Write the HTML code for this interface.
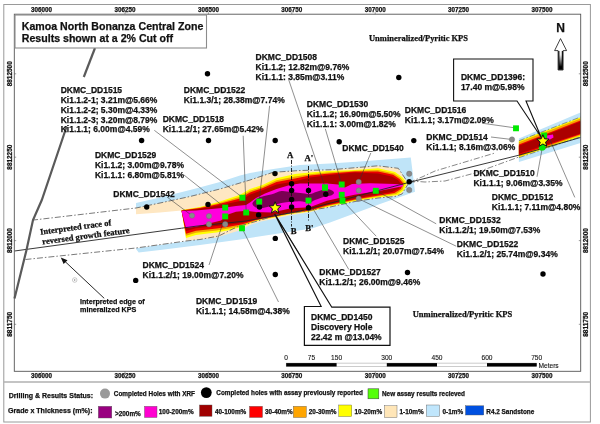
<!DOCTYPE html>
<html><head><meta charset="utf-8"><style>html,body{margin:0;padding:0;background:#fff;}svg{display:block;will-change:transform;}</style></head>
<body>
<svg width="600" height="424" viewBox="0 0 600 424">
<rect width="600" height="424" fill="#fff"/>
<polygon points="136.0,203.0 160.0,197.5 190.0,190.0 220.0,182.0 240.0,175.5 250.0,173.0 270.0,169.5 300.0,165.0 330.0,163.5 360.0,161.5 410.8,157.5 415.0,191.7 380.0,204.0 330.0,222.5 312.0,228.6 272.0,234.5 240.0,239.5 200.0,245.0 160.0,250.0 138.7,252.5 136.0,249.0" fill="#bfe4f8"/>
<polygon points="136.0,208.0 160.0,203.0 190.0,196.5 220.0,189.0 250.0,180.0 273.0,172.3 300.0,170.5 330.0,169.8 378.0,165.8 398.3,168.3 406.7,180.8 409.0,182.5 402.0,194.0 395.0,196.5 378.0,198.0 355.0,201.5 327.0,207.7 310.0,212.3 291.0,215.3 272.0,219.3 261.0,221.5 250.0,225.0 241.6,229.8 216.7,237.5 200.0,239.5 186.0,241.0 136.0,248.0" fill="#fee7c2"/>
<polygon points="130.0,214.5 136.0,214.2 160.0,212.5 181.5,210.5 186.0,239.0 186.0,241.2 160.0,244.8 136.0,248.3 130.0,248.6" fill="#fff"/>
<polygon points="181.5,210.0 200.0,207.0 220.0,201.5 240.0,194.7 250.0,189.0 263.0,184.7 276.5,178.2 295.0,174.0 310.0,172.5 327.0,171.0 355.0,170.0 378.0,168.3 395.0,172.0 402.0,177.0 407.0,183.0 404.0,190.0 398.0,195.0 380.0,197.3 355.0,201.0 327.0,207.0 310.0,211.6 291.0,214.0 272.0,218.0 263.0,219.5 256.0,221.0 241.6,227.0 230.0,230.0 216.7,232.5 210.0,233.3 196.0,235.0 186.0,238.0" fill="#ffff00"/>
<polygon points="181.5,210.3 200.0,207.6 220.0,202.7 240.0,196.8 250.0,190.8 263.0,186.4 276.5,180.3 295.0,176.4 310.0,174.2 327.0,172.4 355.0,170.8 378.0,170.0 394.0,173.5 400.7,178.0 405.0,183.3 402.4,189.5 396.0,194.0 379.3,196.3 355.0,200.3 327.0,206.2 310.0,211.1 291.0,213.4 272.0,217.4 263.0,218.9 256.0,220.4 241.6,225.7 230.0,228.2 216.7,230.4 210.0,231.2 196.0,232.8 186.0,235.7" fill="#f5a200"/>
<polygon points="181.5,210.5 200.0,208.1 220.0,203.8 240.0,198.6 250.0,192.4 263.0,188.0 276.5,182.1 295.0,178.5 310.0,175.6 327.0,173.7 355.0,171.6 378.0,171.5 393.1,174.8 399.5,178.9 403.3,183.6 400.9,189.1 394.3,193.1 378.8,195.4 355.0,199.6 327.0,205.4 310.0,210.6 291.0,212.9 272.0,216.9 263.0,218.4 256.0,219.9 241.6,224.5 230.0,226.6 216.7,228.5 210.0,229.3 196.0,230.8 186.0,233.7" fill="#ea0000"/>
<polygon points="181.5,210.8 200.0,208.8 220.0,205.2 240.0,201.0 250.0,194.5 263.0,190.0 276.5,184.5 295.0,181.3 310.0,177.5 327.0,175.3 355.0,172.5 378.0,173.5 392.0,176.5 398.0,180.0 401.0,184.0 399.0,188.5 392.0,192.0 378.0,194.3 355.0,198.8 327.0,204.5 310.0,210.0 291.0,212.3 272.0,216.3 263.0,217.8 256.0,219.3 241.6,223.0 230.0,224.5 216.7,226.0 210.0,226.8 196.0,228.2 186.0,231.0" fill="#ab0000"/>
<polygon points="181.5,211.0 196.0,210.5 222.0,208.0 236.0,206.0 246.0,205.0 250.0,202.5 256.0,198.0 265.0,193.5 276.5,189.0 290.0,185.0 300.0,183.5 327.0,183.6 338.0,184.5 345.0,187.5 352.0,184.0 370.0,183.3 395.0,184.0 403.0,184.8 403.0,186.2 380.0,190.8 354.5,194.8 345.0,196.8 327.0,200.8 309.7,207.2 291.0,208.3 272.0,212.5 256.0,212.0 246.0,210.8 236.0,211.8 228.0,214.5 221.0,220.5 196.0,226.8 186.0,228.0" fill="#ff00dc"/>
<path d="M252.5,204.0 C252.2,202.9 253.1,202.0 254.0,201.0 C254.9,200.0 256.4,198.8 258.0,198.0 C259.6,197.2 261.0,196.9 263.3,196.3 C265.6,195.7 269.0,195.2 272.0,194.3 C275.0,193.4 278.2,191.4 281.4,191.0 C284.6,190.6 287.9,191.7 291.0,192.0 C294.1,192.3 297.2,192.7 300.3,193.0 C303.4,193.3 307.1,194.2 309.7,194.0 C312.3,193.8 313.9,192.7 316.0,192.0 C318.1,191.3 320.2,190.5 322.0,190.0 C323.8,189.5 325.3,188.9 327.0,189.0 C328.7,189.1 330.8,189.8 332.0,190.5 C333.2,191.2 334.2,192.2 334.0,193.0 C333.8,193.8 332.5,194.9 331.0,195.5 C329.5,196.1 327.7,195.8 325.0,196.5 C322.3,197.2 317.6,199.0 315.0,200.0 C312.4,201.0 312.1,202.4 309.7,202.6 C307.2,202.8 303.4,201.3 300.3,201.2 C297.2,201.0 294.0,201.4 290.9,201.7 C287.8,202.0 284.5,202.5 281.4,203.1 C278.2,203.7 275.1,204.7 272.0,205.5 C268.9,206.3 265.7,207.7 263.0,208.0 C260.3,208.3 257.8,208.2 256.0,207.5 C254.2,206.8 252.8,205.1 252.5,204.0Z" fill="#7a0052"/>
<polygon points="518.9,138.5 580.5,112.5 580.5,143.0 518.9,162.0" fill="#bfe4f8"/>
<polygon points="518.9,141.0 580.5,117.2 580.5,136.5 518.9,157.5" fill="#ffff00"/>
<polygon points="518.9,142.2 580.5,118.5 580.5,135.3 518.9,156.5" fill="#f5a200"/>
<polygon points="518.9,144.5 580.5,120.6 580.5,134.3 518.9,155.3" fill="#ea0000"/>
<polygon points="518.9,145.8 580.5,121.6 580.5,133.5 518.9,153.8" fill="#ab0000"/>
<polyline points="518.9,140.8 580.5,117.0" fill="none" stroke="#6a6a6a" stroke-width="0.7" stroke-dasharray="6,2,1.5,2"/>
<polyline points="518.9,157.7 580.5,136.7" fill="none" stroke="#6a6a6a" stroke-width="0.7" stroke-dasharray="6,2,1.5,2"/>
<path d="M547,135.5 L553,134.5 L553.5,137.5 L550,139.5 L547,139 Z" fill="#ff00dc"/>
<polyline points="32.0,220.2 136.0,208.0 160.0,203.0 190.0,196.5 220.0,189.0 250.0,180.0 273.0,172.3 300.0,170.5 330.0,169.8 378.0,165.8 398.3,168.3 406.7,180.8 409.0,182.5" fill="none" stroke="#6a6a6a" stroke-width="0.9" stroke-dasharray="6,2,1.5,2"/>
<polyline points="25.5,259.5 136.0,248.0 186.0,241.0 200.0,239.5 218.7,236.0 237.3,226.7 261.0,220.0 276.5,215.0 295.0,212.5 327.0,207.7 355.0,201.5 378.0,198.0 395.0,196.5 402.0,194.0 409.0,182.5" fill="none" stroke="#6a6a6a" stroke-width="0.9" stroke-dasharray="6,2,1.5,2"/>
<polyline points="409.0,182.5 416.0,179.5 422.0,177.0 435.0,171.0 465.0,162.0 495.0,153.0" fill="none" stroke="#6a6a6a" stroke-width="0.8" stroke-dasharray="6,2,1.5,2"/>
<polyline points="409.0,182.5 418.0,181.5 425.0,182.0 445.0,181.0 475.0,173.0 518.9,157.0" fill="none" stroke="#6a6a6a" stroke-width="0.8" stroke-dasharray="6,2,1.5,2"/>
<polyline points="14.5,251.0 181.6,228.2 196.0,226.2 246.0,221.0 300.0,211.0 350.0,198.0 409.0,182.4 518.9,155.2 580.5,137.5" fill="none" stroke="#222" stroke-width="0.9" />
<polyline points="95.0,48.0 83.8,77.0" fill="none" stroke="#5a5a5a" stroke-width="2.2" />
<polyline points="66.6,126.5 62.1,140.0 41.8,200.0 33.0,220.0 26.5,250.0 14.5,298.5" fill="none" stroke="#5a5a5a" stroke-width="2.2" />
<line x1="154.3" y1="130.3" x2="242.4" y2="197.4" stroke="#333" stroke-width="0.55"/>
<line x1="184.0" y1="175.0" x2="225.0" y2="207.6" stroke="#333" stroke-width="0.55"/>
<line x1="167.0" y1="197.0" x2="192.0" y2="215.6" stroke="#333" stroke-width="0.55"/>
<line x1="243.2" y1="135.8" x2="246.2" y2="212.2" stroke="#333" stroke-width="0.55"/>
<line x1="269.6" y1="105.8" x2="259.2" y2="201.3" stroke="#333" stroke-width="0.55"/>
<line x1="288.5" y1="79.2" x2="325.0" y2="187.0" stroke="#333" stroke-width="0.55"/>
<line x1="325.3" y1="128.8" x2="341.7" y2="184.2" stroke="#333" stroke-width="0.55"/>
<line x1="370.8" y1="153.0" x2="358.7" y2="182.0" stroke="#333" stroke-width="0.55"/>
<line x1="482.0" y1="123.2" x2="516.0" y2="128.0" stroke="#333" stroke-width="0.55"/>
<line x1="491.0" y1="137.0" x2="512.0" y2="139.5" stroke="#333" stroke-width="0.55"/>
<line x1="537.0" y1="176.8" x2="542.3" y2="147.6" stroke="#333" stroke-width="0.55"/>
<line x1="574.8" y1="197.4" x2="550.0" y2="140.0" stroke="#333" stroke-width="0.55"/>
<line x1="436.2" y1="223.8" x2="375.8" y2="190.5" stroke="#333" stroke-width="0.55"/>
<line x1="456.2" y1="246.2" x2="358.7" y2="198.8" stroke="#333" stroke-width="0.55"/>
<line x1="376.2" y1="236.2" x2="342.5" y2="200.5" stroke="#333" stroke-width="0.55"/>
<line x1="348.8" y1="269.5" x2="312.5" y2="207.8" stroke="#333" stroke-width="0.55"/>
<line x1="209.0" y1="265.0" x2="225.2" y2="216.1" stroke="#333" stroke-width="0.55"/>
<line x1="278.5" y1="302.0" x2="242.0" y2="228.0" stroke="#333" stroke-width="0.55"/>
<line x1="291.5" y1="160" x2="291.5" y2="226.5" stroke="#111" stroke-width="0.9" stroke-dasharray="4,1.5,1,1.5"/>
<line x1="308.5" y1="166" x2="308.5" y2="222" stroke="#111" stroke-width="0.9" stroke-dasharray="4,1.5,1,1.5"/>
<path d="M453.6,59 L533,59 L533,101 L526,101 L541,137 L517,101 L453.6,101 Z" fill="#fff" stroke="#111" stroke-width="1.1" stroke-linejoin="miter"/>
<path d="M304.4,306.5 L321.1,306.3 L274.7,214 L331.8,307.2 L390,307.2 L390,345.3 L304.4,345.3 Z" fill="#fff" stroke="#111" stroke-width="1.2"/>
<line x1="276.0" y1="216.0" x2="300.0" y2="255.0" stroke="#111" stroke-width="0.5"/>
<circle cx="192.0" cy="215.6" r="2.7" fill="#8a8a8a" stroke="#6e6e6e" stroke-width="0.4"/>
<circle cx="209.0" cy="216.1" r="2.7" fill="#8a8a8a" stroke="#6e6e6e" stroke-width="0.4"/>
<circle cx="209.0" cy="224.2" r="2.7" fill="#8a8a8a" stroke="#6e6e6e" stroke-width="0.4"/>
<circle cx="225.2" cy="224.2" r="2.7" fill="#8a8a8a" stroke="#6e6e6e" stroke-width="0.4"/>
<circle cx="358.7" cy="182.0" r="2.7" fill="#8a8a8a" stroke="#6e6e6e" stroke-width="0.4"/>
<circle cx="358.7" cy="190.5" r="2.7" fill="#8a8a8a" stroke="#6e6e6e" stroke-width="0.4"/>
<circle cx="358.7" cy="198.8" r="2.7" fill="#8a8a8a" stroke="#6e6e6e" stroke-width="0.4"/>
<circle cx="409.2" cy="173.8" r="2.7" fill="#8a8a8a" stroke="#6e6e6e" stroke-width="0.4"/>
<circle cx="409.2" cy="190.0" r="2.7" fill="#8a8a8a" stroke="#6e6e6e" stroke-width="0.4"/>
<circle cx="512.0" cy="139.5" r="2.7" fill="#8a8a8a" stroke="#6e6e6e" stroke-width="0.4"/>
<circle cx="207.5" cy="73.8" r="2.7" fill="#000"/>
<circle cx="398.8" cy="77.5" r="2.7" fill="#000"/>
<circle cx="413.8" cy="140.6" r="2.7" fill="#000"/>
<circle cx="141.6" cy="140.5" r="2.7" fill="#000"/>
<circle cx="208.5" cy="140.5" r="2.7" fill="#000"/>
<circle cx="275.2" cy="140.5" r="2.7" fill="#000"/>
<circle cx="339.2" cy="141.7" r="2.7" fill="#000"/>
<circle cx="146.7" cy="207.0" r="2.7" fill="#000"/>
<circle cx="208.0" cy="204.4" r="2.7" fill="#000"/>
<circle cx="275.0" cy="173.6" r="2.7" fill="#000"/>
<circle cx="259.5" cy="207.0" r="2.7" fill="#000"/>
<circle cx="258.6" cy="214.9" r="2.7" fill="#000"/>
<circle cx="325.8" cy="194.2" r="2.7" fill="#000"/>
<circle cx="409.2" cy="181.7" r="2.7" fill="#000"/>
<circle cx="291.6" cy="183.8" r="2.7" fill="#000"/>
<circle cx="291.6" cy="190.4" r="2.7" fill="#000"/>
<circle cx="291.6" cy="199.5" r="2.7" fill="#000"/>
<circle cx="291.6" cy="207.0" r="2.7" fill="#000"/>
<circle cx="308.5" cy="190.4" r="2.7" fill="#000"/>
<circle cx="308.5" cy="207.8" r="2.7" fill="#000"/>
<circle cx="275.3" cy="238.4" r="2.7" fill="#000"/>
<circle cx="275.3" cy="274.5" r="2.7" fill="#000"/>
<circle cx="135.7" cy="280.4" r="2.7" fill="#000"/>
<circle cx="407.5" cy="272.5" r="2.7" fill="#000"/>
<circle cx="543.0" cy="274.0" r="2.7" fill="#000"/>
<rect x="222.25" y="204.65" width="5.9" height="5.9" fill="#00ea00"/>
<rect x="222.25" y="213.45" width="5.9" height="5.9" fill="#00ea00"/>
<rect x="239.45" y="194.75" width="5.9" height="5.9" fill="#00ea00"/>
<rect x="243.25" y="209.55" width="5.9" height="5.9" fill="#00ea00"/>
<rect x="256.25" y="198.65" width="5.9" height="5.9" fill="#00ea00"/>
<rect x="239.05" y="225.35" width="5.9" height="5.9" fill="#00ea00"/>
<rect x="305.55" y="197.65" width="5.9" height="5.9" fill="#00ea00"/>
<rect x="322.05" y="184.35" width="5.9" height="5.9" fill="#00ea00"/>
<rect x="322.05" y="184.85" width="5.9" height="5.9" fill="#00ea00"/>
<rect x="338.75" y="181.55" width="5.9" height="5.9" fill="#00ea00"/>
<rect x="338.75" y="191.85" width="5.9" height="5.9" fill="#00ea00"/>
<rect x="339.55" y="197.85" width="5.9" height="5.9" fill="#00ea00"/>
<rect x="372.85" y="187.85" width="5.9" height="5.9" fill="#00ea00"/>
<rect x="513.05" y="125.35" width="5.9" height="5.9" fill="#00ea00"/>
<rect x="541.25" y="132.55" width="5.9" height="5.9" fill="#00ea00"/>
<circle cx="542.2" cy="147.2" r="3.4" fill="#00ea00"/>
<polygon points="275.1,201.7 276.7,205.6 281.0,206.0 277.8,208.8 278.7,212.9 275.1,210.7 271.5,212.9 272.4,208.8 269.2,206.0 273.5,205.6" fill="#ffff00" stroke="#111" stroke-width="1"/>
<polygon points="542.9,134.7 544.6,138.8 549.0,139.1 545.6,142.0 546.7,146.3 542.9,144.0 539.1,146.3 540.2,142.0 536.8,139.1 541.2,138.8" fill="#ffff00" stroke="#111" stroke-width="1"/>
<rect x="3.8" y="4.5" width="586.6" height="417.5" fill="none" stroke="#9a9a9a" stroke-width="1"/>
<line x1="3.8" y1="382" x2="590.4" y2="382" stroke="#b0b0b0" stroke-width="1.6"/>
<rect x="14.3" y="14.2" width="566.4" height="357.1" fill="none" stroke="#555" stroke-width="0.9"/>
<text x="41.50" y="12.00" font-family='"Liberation Sans", sans-serif' font-size="6.4" font-weight="bold" fill="#111" stroke="#111" stroke-width="0.25" textLength="21.00" lengthAdjust="spacingAndGlyphs" text-anchor="middle">306000</text>
<text x="41.50" y="377.80" font-family='"Liberation Sans", sans-serif' font-size="6.4" font-weight="bold" fill="#111" stroke="#111" stroke-width="0.25" textLength="21.00" lengthAdjust="spacingAndGlyphs" text-anchor="middle">306000</text>
<line x1="41.5" y1="12.3" x2="41.5" y2="14.2" stroke="#555" stroke-width="0.6"/>
<line x1="41.5" y1="371.3" x2="41.5" y2="373.3" stroke="#555" stroke-width="0.6"/>
<text x="125.00" y="12.00" font-family='"Liberation Sans", sans-serif' font-size="6.4" font-weight="bold" fill="#111" stroke="#111" stroke-width="0.25" textLength="21.00" lengthAdjust="spacingAndGlyphs" text-anchor="middle">306250</text>
<text x="125.00" y="377.80" font-family='"Liberation Sans", sans-serif' font-size="6.4" font-weight="bold" fill="#111" stroke="#111" stroke-width="0.25" textLength="21.00" lengthAdjust="spacingAndGlyphs" text-anchor="middle">306250</text>
<line x1="125" y1="12.3" x2="125" y2="14.2" stroke="#555" stroke-width="0.6"/>
<line x1="125" y1="371.3" x2="125" y2="373.3" stroke="#555" stroke-width="0.6"/>
<text x="208.40" y="12.00" font-family='"Liberation Sans", sans-serif' font-size="6.4" font-weight="bold" fill="#111" stroke="#111" stroke-width="0.25" textLength="21.00" lengthAdjust="spacingAndGlyphs" text-anchor="middle">306500</text>
<text x="208.40" y="377.80" font-family='"Liberation Sans", sans-serif' font-size="6.4" font-weight="bold" fill="#111" stroke="#111" stroke-width="0.25" textLength="21.00" lengthAdjust="spacingAndGlyphs" text-anchor="middle">306500</text>
<line x1="208.4" y1="12.3" x2="208.4" y2="14.2" stroke="#555" stroke-width="0.6"/>
<line x1="208.4" y1="371.3" x2="208.4" y2="373.3" stroke="#555" stroke-width="0.6"/>
<text x="291.80" y="12.00" font-family='"Liberation Sans", sans-serif' font-size="6.4" font-weight="bold" fill="#111" stroke="#111" stroke-width="0.25" textLength="21.00" lengthAdjust="spacingAndGlyphs" text-anchor="middle">306750</text>
<text x="291.80" y="377.80" font-family='"Liberation Sans", sans-serif' font-size="6.4" font-weight="bold" fill="#111" stroke="#111" stroke-width="0.25" textLength="21.00" lengthAdjust="spacingAndGlyphs" text-anchor="middle">306750</text>
<line x1="291.8" y1="12.3" x2="291.8" y2="14.2" stroke="#555" stroke-width="0.6"/>
<line x1="291.8" y1="371.3" x2="291.8" y2="373.3" stroke="#555" stroke-width="0.6"/>
<text x="375.20" y="12.00" font-family='"Liberation Sans", sans-serif' font-size="6.4" font-weight="bold" fill="#111" stroke="#111" stroke-width="0.25" textLength="21.00" lengthAdjust="spacingAndGlyphs" text-anchor="middle">307000</text>
<text x="375.20" y="377.80" font-family='"Liberation Sans", sans-serif' font-size="6.4" font-weight="bold" fill="#111" stroke="#111" stroke-width="0.25" textLength="21.00" lengthAdjust="spacingAndGlyphs" text-anchor="middle">307000</text>
<line x1="375.2" y1="12.3" x2="375.2" y2="14.2" stroke="#555" stroke-width="0.6"/>
<line x1="375.2" y1="371.3" x2="375.2" y2="373.3" stroke="#555" stroke-width="0.6"/>
<text x="458.60" y="12.00" font-family='"Liberation Sans", sans-serif' font-size="6.4" font-weight="bold" fill="#111" stroke="#111" stroke-width="0.25" textLength="21.00" lengthAdjust="spacingAndGlyphs" text-anchor="middle">307250</text>
<text x="458.60" y="377.80" font-family='"Liberation Sans", sans-serif' font-size="6.4" font-weight="bold" fill="#111" stroke="#111" stroke-width="0.25" textLength="21.00" lengthAdjust="spacingAndGlyphs" text-anchor="middle">307250</text>
<line x1="458.6" y1="12.3" x2="458.6" y2="14.2" stroke="#555" stroke-width="0.6"/>
<line x1="458.6" y1="371.3" x2="458.6" y2="373.3" stroke="#555" stroke-width="0.6"/>
<text x="542.00" y="12.00" font-family='"Liberation Sans", sans-serif' font-size="6.4" font-weight="bold" fill="#111" stroke="#111" stroke-width="0.25" textLength="21.00" lengthAdjust="spacingAndGlyphs" text-anchor="middle">307500</text>
<text x="542.00" y="377.80" font-family='"Liberation Sans", sans-serif' font-size="6.4" font-weight="bold" fill="#111" stroke="#111" stroke-width="0.25" textLength="21.00" lengthAdjust="spacingAndGlyphs" text-anchor="middle">307500</text>
<line x1="542" y1="12.3" x2="542" y2="14.2" stroke="#555" stroke-width="0.6"/>
<line x1="542" y1="371.3" x2="542" y2="373.3" stroke="#555" stroke-width="0.6"/>
<g transform="translate(12.3,73.8) rotate(-90)">
<text x="0.00" y="0.00" font-family='"Liberation Sans", sans-serif' font-size="6.4" font-weight="bold" fill="#111" stroke="#111" stroke-width="0.25" textLength="25.00" lengthAdjust="spacingAndGlyphs" text-anchor="middle">8812500</text>
</g>
<g transform="translate(587.7,73.8) rotate(-90)">
<text x="0.00" y="0.00" font-family='"Liberation Sans", sans-serif' font-size="6.4" font-weight="bold" fill="#111" stroke="#111" stroke-width="0.25" textLength="25.00" lengthAdjust="spacingAndGlyphs" text-anchor="middle">8812500</text>
</g>
<line x1="14.3" y1="73.8" x2="16.2" y2="73.8" stroke="#555" stroke-width="0.6"/>
<line x1="578.8" y1="73.8" x2="580.7" y2="73.8" stroke="#555" stroke-width="0.6"/>
<g transform="translate(12.3,157.2) rotate(-90)">
<text x="0.00" y="0.00" font-family='"Liberation Sans", sans-serif' font-size="6.4" font-weight="bold" fill="#111" stroke="#111" stroke-width="0.25" textLength="25.00" lengthAdjust="spacingAndGlyphs" text-anchor="middle">8812250</text>
</g>
<g transform="translate(587.7,157.2) rotate(-90)">
<text x="0.00" y="0.00" font-family='"Liberation Sans", sans-serif' font-size="6.4" font-weight="bold" fill="#111" stroke="#111" stroke-width="0.25" textLength="25.00" lengthAdjust="spacingAndGlyphs" text-anchor="middle">8812250</text>
</g>
<line x1="14.3" y1="157.2" x2="16.2" y2="157.2" stroke="#555" stroke-width="0.6"/>
<line x1="578.8" y1="157.2" x2="580.7" y2="157.2" stroke="#555" stroke-width="0.6"/>
<g transform="translate(12.3,240.6) rotate(-90)">
<text x="0.00" y="0.00" font-family='"Liberation Sans", sans-serif' font-size="6.4" font-weight="bold" fill="#111" stroke="#111" stroke-width="0.25" textLength="25.00" lengthAdjust="spacingAndGlyphs" text-anchor="middle">8812000</text>
</g>
<g transform="translate(587.7,240.6) rotate(-90)">
<text x="0.00" y="0.00" font-family='"Liberation Sans", sans-serif' font-size="6.4" font-weight="bold" fill="#111" stroke="#111" stroke-width="0.25" textLength="25.00" lengthAdjust="spacingAndGlyphs" text-anchor="middle">8812000</text>
</g>
<line x1="14.3" y1="240.6" x2="16.2" y2="240.6" stroke="#555" stroke-width="0.6"/>
<line x1="578.8" y1="240.6" x2="580.7" y2="240.6" stroke="#555" stroke-width="0.6"/>
<g transform="translate(12.3,324.3) rotate(-90)">
<text x="0.00" y="0.00" font-family='"Liberation Sans", sans-serif' font-size="6.4" font-weight="bold" fill="#111" stroke="#111" stroke-width="0.25" textLength="25.00" lengthAdjust="spacingAndGlyphs" text-anchor="middle">8811750</text>
</g>
<g transform="translate(587.7,324.3) rotate(-90)">
<text x="0.00" y="0.00" font-family='"Liberation Sans", sans-serif' font-size="6.4" font-weight="bold" fill="#111" stroke="#111" stroke-width="0.25" textLength="25.00" lengthAdjust="spacingAndGlyphs" text-anchor="middle">8811750</text>
</g>
<line x1="14.3" y1="324.3" x2="16.2" y2="324.3" stroke="#555" stroke-width="0.6"/>
<line x1="578.8" y1="324.3" x2="580.7" y2="324.3" stroke="#555" stroke-width="0.6"/>
<rect x="15" y="15" width="191.5" height="33" fill="#fff" stroke="#8c8c8c" stroke-width="1.1"/>
<text x="21.80" y="30.00" font-family='"Liberation Sans", sans-serif' font-size="10.6" font-weight="bold" fill="#111" stroke="#111" stroke-width="0.25" textLength="181.50" lengthAdjust="spacingAndGlyphs">Kamoa North Bonanza Central Zone</text>
<text x="21.80" y="41.60" font-family='"Liberation Sans", sans-serif' font-size="10.6" font-weight="bold" fill="#111" stroke="#111" stroke-width="0.25">Results shown at a 2% Cut off</text>
<text x="60.70" y="93.20" font-family='"Liberation Sans", sans-serif' font-size="8.5" font-weight="bold" fill="#111" stroke="#111" stroke-width="0.25">DKMC_DD1515</text>
<text x="60.70" y="103.00" font-family='"Liberation Sans", sans-serif' font-size="8.5" font-weight="bold" fill="#111" stroke="#111" stroke-width="0.25">Ki1.1.2-1; 3.21m@5.66%</text>
<text x="60.70" y="112.80" font-family='"Liberation Sans", sans-serif' font-size="8.5" font-weight="bold" fill="#111" stroke="#111" stroke-width="0.25">Ki1.1.2-2; 5.30m@4.33%</text>
<text x="60.70" y="122.60" font-family='"Liberation Sans", sans-serif' font-size="8.5" font-weight="bold" fill="#111" stroke="#111" stroke-width="0.25">Ki1.1.2-3; 3.20m@8.79%</text>
<text x="60.70" y="132.40" font-family='"Liberation Sans", sans-serif' font-size="8.5" font-weight="bold" fill="#111" stroke="#111" stroke-width="0.25">Ki1.1.1; 6.00m@4.59%</text>
<text x="183.80" y="93.10" font-family='"Liberation Sans", sans-serif' font-size="8.5" font-weight="bold" fill="#111" stroke="#111" stroke-width="0.25">DKMC_DD1522</text>
<text x="183.80" y="103.10" font-family='"Liberation Sans", sans-serif' font-size="8.5" font-weight="bold" fill="#111" stroke="#111" stroke-width="0.25">Ki1.1.3/1; 28.38m@7.74%</text>
<text x="255.60" y="59.60" font-family='"Liberation Sans", sans-serif' font-size="8.5" font-weight="bold" fill="#111" stroke="#111" stroke-width="0.25">DKMC_DD1508</text>
<text x="255.60" y="69.60" font-family='"Liberation Sans", sans-serif' font-size="8.5" font-weight="bold" fill="#111" stroke="#111" stroke-width="0.25">Ki1.1.2; 12.82m@9.76%</text>
<text x="255.60" y="79.60" font-family='"Liberation Sans", sans-serif' font-size="8.5" font-weight="bold" fill="#111" stroke="#111" stroke-width="0.25">Ki1.1.1: 3.85m@3.11%</text>
<text x="306.80" y="107.40" font-family='"Liberation Sans", sans-serif' font-size="8.5" font-weight="bold" fill="#111" stroke="#111" stroke-width="0.25">DKMC_DD1530</text>
<text x="306.80" y="117.40" font-family='"Liberation Sans", sans-serif' font-size="8.5" font-weight="bold" fill="#111" stroke="#111" stroke-width="0.25">Ki1.1.2; 16.90m@5.50%</text>
<text x="306.80" y="127.40" font-family='"Liberation Sans", sans-serif' font-size="8.5" font-weight="bold" fill="#111" stroke="#111" stroke-width="0.25">Ki1.1.1: 3.00m@1.82%</text>
<text x="162.70" y="122.10" font-family='"Liberation Sans", sans-serif' font-size="8.5" font-weight="bold" fill="#111" stroke="#111" stroke-width="0.25">DKMC_DD1518</text>
<text x="162.70" y="132.10" font-family='"Liberation Sans", sans-serif' font-size="8.5" font-weight="bold" fill="#111" stroke="#111" stroke-width="0.25">Ki1.1.2/1; 27.65m@5.42%</text>
<text x="404.80" y="113.40" font-family='"Liberation Sans", sans-serif' font-size="8.5" font-weight="bold" fill="#111" stroke="#111" stroke-width="0.25">DKMC_DD1516</text>
<text x="404.80" y="123.40" font-family='"Liberation Sans", sans-serif' font-size="8.5" font-weight="bold" fill="#111" stroke="#111" stroke-width="0.25">Ki1.1.1; 3.17m@2.09%</text>
<text x="426.30" y="140.20" font-family='"Liberation Sans", sans-serif' font-size="8.5" font-weight="bold" fill="#111" stroke="#111" stroke-width="0.25">DKMC_DD1514</text>
<text x="426.30" y="150.20" font-family='"Liberation Sans", sans-serif' font-size="8.5" font-weight="bold" fill="#111" stroke="#111" stroke-width="0.25">Ki1.1.1; 8.16m@3.06%</text>
<text x="342.30" y="151.20" font-family='"Liberation Sans", sans-serif' font-size="8.5" font-weight="bold" fill="#111" stroke="#111" stroke-width="0.25">DKMC_DD1540</text>
<text x="94.90" y="158.40" font-family='"Liberation Sans", sans-serif' font-size="8.5" font-weight="bold" fill="#111" stroke="#111" stroke-width="0.25">DKMC_DD1529</text>
<text x="94.90" y="168.40" font-family='"Liberation Sans", sans-serif' font-size="8.5" font-weight="bold" fill="#111" stroke="#111" stroke-width="0.25">Ki1.1.2; 3.00m@9.78%</text>
<text x="94.90" y="178.40" font-family='"Liberation Sans", sans-serif' font-size="8.5" font-weight="bold" fill="#111" stroke="#111" stroke-width="0.25">Ki1.1.1: 6.80m@5.81%</text>
<text x="113.30" y="197.40" font-family='"Liberation Sans", sans-serif' font-size="8.5" font-weight="bold" fill="#111" stroke="#111" stroke-width="0.25">DKMC_DD1542</text>
<text x="473.40" y="176.30" font-family='"Liberation Sans", sans-serif' font-size="8.5" font-weight="bold" fill="#111" stroke="#111" stroke-width="0.25">DKMC_DD1510</text>
<text x="473.40" y="186.30" font-family='"Liberation Sans", sans-serif' font-size="8.5" font-weight="bold" fill="#111" stroke="#111" stroke-width="0.25">Ki1.1.1; 9.06m@3.35%</text>
<text x="491.80" y="199.70" font-family='"Liberation Sans", sans-serif' font-size="8.5" font-weight="bold" fill="#111" stroke="#111" stroke-width="0.25">DKMC_DD1512</text>
<text x="491.80" y="209.70" font-family='"Liberation Sans", sans-serif' font-size="8.5" font-weight="bold" fill="#111" stroke="#111" stroke-width="0.25">Ki1.1.1; 7.11m@4.80%</text>
<text x="439.30" y="223.10" font-family='"Liberation Sans", sans-serif' font-size="8.5" font-weight="bold" fill="#111" stroke="#111" stroke-width="0.25">DKMC_DD1532</text>
<text x="439.30" y="233.10" font-family='"Liberation Sans", sans-serif' font-size="8.5" font-weight="bold" fill="#111" stroke="#111" stroke-width="0.25">Ki1.1.2/1; 19.50m@7.53%</text>
<text x="456.80" y="246.70" font-family='"Liberation Sans", sans-serif' font-size="8.5" font-weight="bold" fill="#111" stroke="#111" stroke-width="0.25">DKMC_DD1522</text>
<text x="456.80" y="256.70" font-family='"Liberation Sans", sans-serif' font-size="8.5" font-weight="bold" fill="#111" stroke="#111" stroke-width="0.25">Ki1.1.2/1; 25.74m@9.34%</text>
<text x="343.05" y="244.40" font-family='"Liberation Sans", sans-serif' font-size="8.5" font-weight="bold" fill="#111" stroke="#111" stroke-width="0.25">DKMC_DD1525</text>
<text x="343.05" y="254.40" font-family='"Liberation Sans", sans-serif' font-size="8.5" font-weight="bold" fill="#111" stroke="#111" stroke-width="0.25">Ki1.1.2/1; 20.07m@7.54%</text>
<text x="319.30" y="275.20" font-family='"Liberation Sans", sans-serif' font-size="8.5" font-weight="bold" fill="#111" stroke="#111" stroke-width="0.25">DKMC_DD1527</text>
<text x="319.30" y="285.20" font-family='"Liberation Sans", sans-serif' font-size="8.5" font-weight="bold" fill="#111" stroke="#111" stroke-width="0.25">Ki1.1.2/1; 26.00m@9.46%</text>
<text x="142.60" y="268.40" font-family='"Liberation Sans", sans-serif' font-size="8.5" font-weight="bold" fill="#111" stroke="#111" stroke-width="0.25">DKMC_DD1524</text>
<text x="142.60" y="278.40" font-family='"Liberation Sans", sans-serif' font-size="8.5" font-weight="bold" fill="#111" stroke="#111" stroke-width="0.25">Ki1.1.2/1; 19.00m@7.20%</text>
<text x="195.90" y="303.60" font-family='"Liberation Sans", sans-serif' font-size="8.5" font-weight="bold" fill="#111" stroke="#111" stroke-width="0.25">DKMC_DD1519</text>
<text x="195.90" y="313.60" font-family='"Liberation Sans", sans-serif' font-size="8.5" font-weight="bold" fill="#111" stroke="#111" stroke-width="0.25">Ki1.1.1; 14.58m@4.38%</text>
<text x="460.90" y="80.10" font-family='"Liberation Sans", sans-serif' font-size="8.5" font-weight="bold" fill="#111" stroke="#111" stroke-width="0.25">DKMC_DD1396:</text>
<text x="460.90" y="90.10" font-family='"Liberation Sans", sans-serif' font-size="8.5" font-weight="bold" fill="#111" stroke="#111" stroke-width="0.25">17.40 m@5.98%</text>
<text x="311.00" y="320.40" font-family='"Liberation Sans", sans-serif' font-size="8.5" font-weight="bold" fill="#111" stroke="#111" stroke-width="0.25">DKMC_DD1450</text>
<text x="311.00" y="330.40" font-family='"Liberation Sans", sans-serif' font-size="8.5" font-weight="bold" fill="#111" stroke="#111" stroke-width="0.25">Discovery Hole</text>
<text x="311.00" y="340.40" font-family='"Liberation Sans", sans-serif' font-size="8.5" font-weight="bold" fill="#111" stroke="#111" stroke-width="0.25">22.42 m @13.04%</text>
<text x="290.20" y="157.60" font-family='"Liberation Serif", serif' font-size="8.8" font-weight="bold" fill="#111" stroke="#111" stroke-width="0.25" text-anchor="middle">A</text>
<text x="304.40" y="161.30" font-family='"Liberation Serif", serif' font-size="8.8" font-weight="bold" fill="#111" stroke="#111" stroke-width="0.25">A'</text>
<text x="293.70" y="233.50" font-family='"Liberation Serif", serif' font-size="8.8" font-weight="bold" fill="#111" stroke="#111" stroke-width="0.25" text-anchor="middle">B</text>
<text x="305.20" y="230.80" font-family='"Liberation Serif", serif' font-size="8.8" font-weight="bold" fill="#111" stroke="#111" stroke-width="0.25">B'</text>
<text x="369.00" y="41.00" font-family='"Liberation Serif", serif' font-size="8.5" font-weight="bold" fill="#111" stroke="#111" stroke-width="0.25" textLength="99.00" lengthAdjust="spacingAndGlyphs">Unmineralized/Pyritic KPS</text>
<text x="412.70" y="317.40" font-family='"Liberation Serif", serif' font-size="8.5" font-weight="bold" fill="#111" stroke="#111" stroke-width="0.25" textLength="99.60" lengthAdjust="spacingAndGlyphs">Unmineralized/Pyritic KPS</text>
<g transform="translate(40.5,234.7) rotate(-7.5)">
<text x="0.00" y="0.00" font-family='"Liberation Serif", serif' font-size="8.5" font-weight="bold" fill="#111" stroke="#111" stroke-width="0.25" textLength="71.60" lengthAdjust="spacingAndGlyphs">Interpreted trace of</text>
<text x="0.80" y="10.00" font-family='"Liberation Serif", serif' font-size="8.5" font-weight="bold" fill="#111" stroke="#111" stroke-width="0.25" textLength="88.00" lengthAdjust="spacingAndGlyphs">reversed growth feature</text>
</g>
<text x="80.00" y="303.70" font-family='"Liberation Sans", sans-serif' font-size="7.2" font-weight="bold" fill="#111" stroke="#111" stroke-width="0.25" textLength="64.70" lengthAdjust="spacingAndGlyphs">Interpreted edge of</text>
<text x="80.00" y="311.70" font-family='"Liberation Sans", sans-serif' font-size="7.2" font-weight="bold" fill="#111" stroke="#111" stroke-width="0.25">mineralized KPS</text>
<line x1="104.2" y1="298.3" x2="64" y2="260.5" stroke="#111" stroke-width="0.9"/>
<polygon points="60.8,257.5 67.5,260.2 63.6,264" fill="#111"/>
<circle cx="74.7" cy="280" r="2.3" fill="#fff" stroke="#999" stroke-width="0.5"/><circle cx="74.7" cy="280" r="0.7" fill="#777"/>
<text x="560.70" y="32.30" font-family='"Liberation Sans", sans-serif' font-size="12" font-weight="bold" fill="#111" stroke="#111" stroke-width="0.25" text-anchor="middle">N</text>
<defs><linearGradient id="ng" x1="0" y1="0" x2="0" y2="1"><stop offset="0" stop-color="#fff"/><stop offset="0.25" stop-color="#eee"/><stop offset="1" stop-color="#fff" stop-opacity="0"/></linearGradient></defs>
<path d="M560.5,38.6 L566.6,50.6 L563.1,50.6 L563.1,70 L558.1,70 L558.1,50.6 L554.6,50.6 Z" fill="#fff" stroke="#111" stroke-width="0.8"/>
<rect x="558.3" y="51" width="4.6" height="18.8" fill="#000"/>
<rect x="559.4" y="50.8" width="2.4" height="16" fill="url(#ng)"/>
<rect x="286.2" y="363.1" width="250.50000000000006" height="3.4" fill="#fff" stroke="#999" stroke-width="0.5"/>
<rect x="286.2" y="363.1" width="50.400000000000034" height="3.4" fill="#000"/>
<rect x="386.8" y="363.1" width="50.19999999999999" height="3.4" fill="#000"/>
<rect x="487" y="363.1" width="49.700000000000045" height="3.4" fill="#000"/>
<text x="286.20" y="360.00" font-family='"Liberation Sans", sans-serif' font-size="6.6" font-weight="normal" fill="#111" stroke="#111" stroke-width="0.1" text-anchor="middle">0</text>
<text x="311.40" y="360.00" font-family='"Liberation Sans", sans-serif' font-size="6.6" font-weight="normal" fill="#111" stroke="#111" stroke-width="0.1" text-anchor="middle">75</text>
<text x="336.60" y="360.00" font-family='"Liberation Sans", sans-serif' font-size="6.6" font-weight="normal" fill="#111" stroke="#111" stroke-width="0.1" text-anchor="middle">150</text>
<text x="386.80" y="360.00" font-family='"Liberation Sans", sans-serif' font-size="6.6" font-weight="normal" fill="#111" stroke="#111" stroke-width="0.1" text-anchor="middle">300</text>
<text x="437.00" y="360.00" font-family='"Liberation Sans", sans-serif' font-size="6.6" font-weight="normal" fill="#111" stroke="#111" stroke-width="0.1" text-anchor="middle">450</text>
<text x="487.00" y="360.00" font-family='"Liberation Sans", sans-serif' font-size="6.6" font-weight="normal" fill="#111" stroke="#111" stroke-width="0.1" text-anchor="middle">600</text>
<text x="536.70" y="360.00" font-family='"Liberation Sans", sans-serif' font-size="6.6" font-weight="normal" fill="#111" stroke="#111" stroke-width="0.1" text-anchor="middle">750</text>
<text x="538.50" y="367.50" font-family='"Liberation Sans", sans-serif' font-size="6.6" font-weight="normal" fill="#111" stroke="#111" stroke-width="0.1">Meters</text>
<text x="8.80" y="398.40" font-family='"Liberation Sans", sans-serif' font-size="7.0" font-weight="bold" fill="#111" stroke="#111" stroke-width="0.25" textLength="84.20" lengthAdjust="spacingAndGlyphs">Drilling &amp; Results Status:</text>
<text x="8.00" y="413.40" font-family='"Liberation Sans", sans-serif' font-size="7.0" font-weight="bold" fill="#111" stroke="#111" stroke-width="0.25" textLength="84.50" lengthAdjust="spacingAndGlyphs">Grade x Thickness (m%):</text>
<circle cx="105" cy="393.6" r="5" fill="#999"/>
<text x="113.80" y="395.50" font-family='"Liberation Sans", sans-serif' font-size="6.4" font-weight="bold" fill="#111" stroke="#111" stroke-width="0.25" textLength="81.20" lengthAdjust="spacingAndGlyphs">Completed Holes with XRF</text>
<circle cx="206.3" cy="392.6" r="5.4" fill="#000"/>
<text x="216.30" y="394.80" font-family='"Liberation Sans", sans-serif' font-size="6.4" font-weight="bold" fill="#111" stroke="#111" stroke-width="0.25" textLength="146.70" lengthAdjust="spacingAndGlyphs">Completed holes with assay previously reported</text>
<rect x="368" y="388.8" width="10.8" height="10" fill="#55ff08" stroke="#3a3a3a" stroke-width="0.5"/>
<text x="382.00" y="396.30" font-family='"Liberation Sans", sans-serif' font-size="6.4" font-weight="bold" fill="#111" stroke="#111" stroke-width="0.25" textLength="83.00" lengthAdjust="spacingAndGlyphs">New assay results recieved</text>
<rect x="98.3" y="406.3" width="13.5" height="11.7" fill="#990080" stroke="#555" stroke-width="0.4"/>
<text x="115.00" y="415.50" font-family='"Liberation Sans", sans-serif' font-size="6.4" font-weight="bold" fill="#111" stroke="#111" stroke-width="0.25">&gt;200m%</text>
<rect x="144.5" y="406.3" width="12.5" height="11.2" fill="#ff00d0" stroke="#555" stroke-width="0.4"/>
<text x="158.80" y="413.80" font-family='"Liberation Sans", sans-serif' font-size="6.4" font-weight="bold" fill="#111" stroke="#111" stroke-width="0.25">100-200m%</text>
<rect x="199.5" y="405" width="12.5" height="11.3" fill="#a00000" stroke="#555" stroke-width="0.4"/>
<text x="215.00" y="414.20" font-family='"Liberation Sans", sans-serif' font-size="6.4" font-weight="bold" fill="#111" stroke="#111" stroke-width="0.25">40-100m%</text>
<rect x="249.5" y="406.3" width="13.0" height="11.2" fill="#ff0000" stroke="#555" stroke-width="0.4"/>
<text x="265.00" y="413.80" font-family='"Liberation Sans", sans-serif' font-size="6.4" font-weight="bold" fill="#111" stroke="#111" stroke-width="0.25">30-40m%</text>
<rect x="293.3" y="406.3" width="13.0" height="11.2" fill="#ffa500" stroke="#555" stroke-width="0.4"/>
<text x="308.80" y="413.80" font-family='"Liberation Sans", sans-serif' font-size="6.4" font-weight="bold" fill="#111" stroke="#111" stroke-width="0.25">20-30m%</text>
<rect x="338.8" y="405" width="13.0" height="11.5" fill="#ffff00" stroke="#555" stroke-width="0.4"/>
<text x="354.50" y="413.80" font-family='"Liberation Sans", sans-serif' font-size="6.4" font-weight="bold" fill="#111" stroke="#111" stroke-width="0.25">10-20m%</text>
<rect x="384.5" y="405.8" width="12.5" height="11.7" fill="#ffe6b8" stroke="#555" stroke-width="0.4"/>
<text x="399.50" y="413.80" font-family='"Liberation Sans", sans-serif' font-size="6.4" font-weight="bold" fill="#111" stroke="#111" stroke-width="0.25">1-10m%</text>
<rect x="426.3" y="405" width="13.2" height="11.3" fill="#c0e6fc" stroke="#555" stroke-width="0.4"/>
<text x="442.50" y="413.80" font-family='"Liberation Sans", sans-serif' font-size="6.4" font-weight="bold" fill="#111" stroke="#111" stroke-width="0.25">0-1m%</text>
<rect x="465.5" y="405.8" width="18.3" height="9.2" fill="#0050e0" stroke="#555" stroke-width="0.4"/>
<text x="486.30" y="413.80" font-family='"Liberation Sans", sans-serif' font-size="6.4" font-weight="bold" fill="#111" stroke="#111" stroke-width="0.25">R4.2 Sandstone</text>
</svg>
</body></html>
